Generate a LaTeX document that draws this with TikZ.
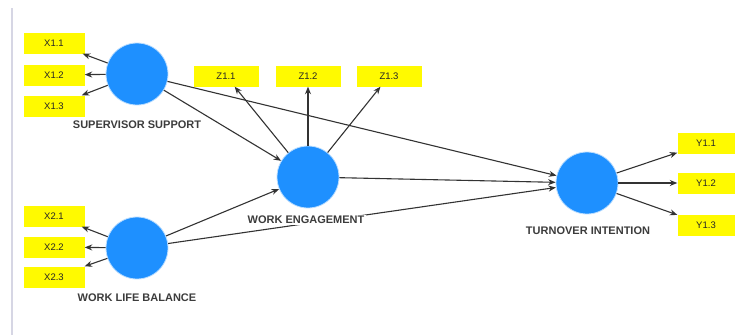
\documentclass[tikz,border=0pt]{standalone}
\usepackage{fontspec}
\setmainfont{Liberation Sans}
\usetikzlibrary{arrows.meta}
\definecolor{lvblue}{RGB}{30,144,255}
\definecolor{lvyellow}{RGB}{255,250,0}
\definecolor{lbltext}{RGB}{60,60,60}
\definecolor{edgeline}{RGB}{214,214,228}
\tikzset{
  lv/.style={circle, fill=lvblue, draw=lvblue!30, line width=0.8pt, minimum size=62pt, inner sep=0pt},
  ind/.style={rectangle, fill=lvyellow, minimum width=61pt, minimum height=21pt, inner sep=0pt, font=\fontsize{9.5}{10}\selectfont, text=black!85},
  lvlabel/.style={fill=white, inner sep=1.5pt, font=\bfseries\fontsize{11}{12}\selectfont, text=lbltext},
  conn/.style={draw=black!80, line width=1.1pt, -{Stealth[length=7.5pt,width=6pt]}}
}
\begin{document}
\begin{tikzpicture}[x=1pt,y=-1pt]
\fill[white] (0,0) rectangle (735,335);
\useasboundingbox (0,0) rectangle (735,335);
\draw[edgeline, line width=1.2pt] (12,8) -- (12,335);

% latent variables
\node[lv] (ss) at (137,74) {};
\node[lv] (wlb) at (137,248) {};
\node[lv] (we) at (308,177) {};
\node[lv] (ti) at (587,183) {};

% indicators
\node[ind] (x11) at (54,43) {X1.1};
\node[ind] (x12) at (54,75) {X1.2};
\node[ind] (x13) at (54,106) {X1.3};
\node[ind] (x21) at (54,216) {X2.1};
\node[ind] (x22) at (54,247) {X2.2};
\node[ind] (x23) at (54,277) {X2.3};
\node[ind, minimum width=65pt] (z11) at (226,76) {Z1.1};
\node[ind, minimum width=65pt] (z12) at (308,76) {Z1.2};
\node[ind, minimum width=65pt] (z13) at (389,76) {Z1.3};
\node[ind, minimum width=57pt] (y11) at (706,143) {Y1.1};
\node[ind, minimum width=57pt] (y12) at (706,183) {Y1.2};
\node[ind, minimum width=57pt] (y13) at (706,225) {Y1.3};

% connectors
\draw[conn] (ss) -- (x11);
\draw[conn] (ss) -- (x12);
\draw[conn] (ss) -- (x13);
\draw[conn] (wlb) -- (x21);
\draw[conn] (wlb) -- (x22);
\draw[conn] (wlb) -- (x23);
\draw[conn] (we) -- (z11);
\draw[conn] (we) -- (z12);
\draw[conn] (we) -- (z13);
\draw[conn] (ti) -- (y11);
\draw[conn] (ti) -- (y12);
\draw[conn] (ti) -- (y13);
\draw[conn] (ss) -- (we);
\draw[conn] (wlb) -- (we);
\draw[conn] (ss) -- (ti);
\draw[conn] (wlb) -- (ti);
\draw[conn] (we) -- (ti);

% labels
\node[lvlabel] (ssl) at (137,125) {SUPERVISOR SUPPORT};
\node[lvlabel] (wlbl) at (137,298) {WORK LIFE BALANCE};
\node[lvlabel] (wel) at (306,220) {WORK ENGAGEMENT};
\node[lvlabel] (til) at (588,231) {TURNOVER INTENTION};
\end{tikzpicture}
\end{document}
